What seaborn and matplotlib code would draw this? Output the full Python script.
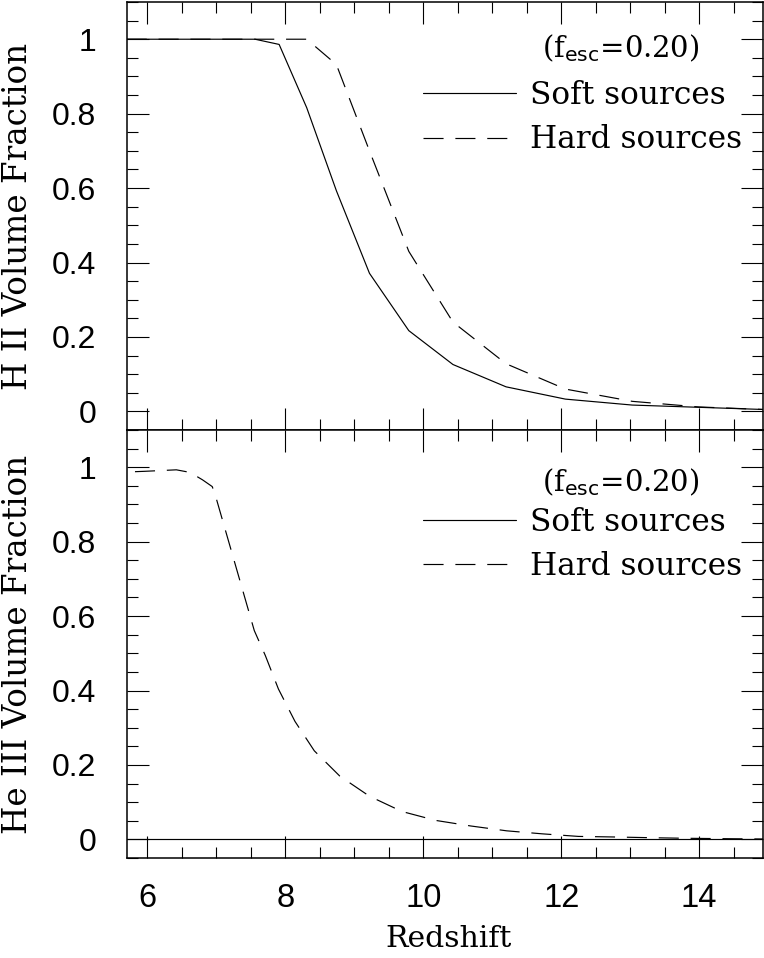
import numpy as np
import pandas as pd
import matplotlib
matplotlib.use("Agg")
import matplotlib.pyplot as plt
from matplotlib.ticker import FixedLocator, MultipleLocator, FixedFormatter
import seaborn as sns

# ---------------- data ----------------
z_top = [5.7, 7.56, 7.91, 8.31, 8.74, 9.22, 9.79, 10.43, 11.20, 12.06, 13.03, 13.99, 14.95]
hii_soft = [1.0, 1.0, 0.986, 0.816, 0.593, 0.371, 0.217, 0.126, 0.066, 0.033, 0.017, 0.011, 0.005]
hii_hard = [1.0, 1.0, 1.0, 1.0, 0.932, 0.70, 0.43, 0.24, 0.128, 0.06, 0.027, 0.012, 0.005]

z_he_soft = [5.7, 14.95]
heiii_soft = [0.0, 0.0]
z_he_hard = [5.82, 5.96, 6.42, 6.62, 6.80, 6.94, 6.98, 7.23, 7.55, 7.71, 7.90, 8.14,
             8.42, 8.79, 9.22, 9.69, 10.18, 10.69, 11.21, 11.72, 12.25, 12.76, 13.28,
             13.80, 14.32, 14.95]
heiii_hard = [0.988, 0.989, 0.993, 0.986, 0.966, 0.948, 0.928, 0.767, 0.561, 0.494, 0.404,
              0.317, 0.238, 0.170, 0.116, 0.075, 0.051, 0.036, 0.023, 0.015, 0.008, 0.0065,
              0.0046, 0.003, 0.002, 0.001]

x_ticks = [6, 8, 10, 12, 14]
x_ticklabels = ["6", "8", "10", "12", "14"]
y_ticks = [0, 0.2, 0.4, 0.6, 0.8, 1.0]
y_ticklabels = ["0", "0.2", "0.4", "0.6", "0.8", "1"]
series_names = ["Soft sources", "Hard sources"]
legend_title = r"(f$_{\mathsf{esc}}$=0.20)"
ylabels = ["H II Volume Fraction", "He III Volume Fraction"]
xlabel = "Redshift"

# ---------------- styling ----------------
sns.set_theme(style="white")
plt.rcParams["font.family"] = ["DejaVu Serif"]
plt.rcParams["mathtext.fontset"] = "dejavuserif"
for k in ["text.color", "axes.labelcolor", "xtick.color", "ytick.color", "axes.edgecolor"]:
    plt.rcParams[k] = "black"

W, H = 764, 958
fig = plt.figure(figsize=(W / 100, H / 100), dpi=100)

left = 126.7 / W
right = 763.3 / W
ax_top = fig.add_axes([left, (H - 430) / H, right - left, 428 / H])
ax_bot = fig.add_axes([left, (H - 858) / H, right - left, 428 / H])

serif = "DejaVu Serif"
sans = "Liberation Sans"
lw = 0.85
dash = (0, (17, 10))

df_top = pd.DataFrame({"z": z_top, "soft": hii_soft, "hard": hii_hard})
sns.lineplot(data=df_top, x="z", y="soft", ax=ax_top, color="black", lw=lw,
             label=series_names[0], estimator=None, sort=False)
sns.lineplot(data=df_top, x="z", y="hard", ax=ax_top, color="black", lw=lw,
             linestyle=dash, label=series_names[1], estimator=None, sort=False)

df_bs = pd.DataFrame({"z": z_he_soft, "v": heiii_soft})
df_bh = pd.DataFrame({"z": z_he_hard, "v": heiii_hard})
sns.lineplot(data=df_bs, x="z", y="v", ax=ax_bot, color="black", lw=lw,
             label=series_names[0], estimator=None, sort=False)
sns.lineplot(data=df_bh, x="z", y="v", ax=ax_bot, color="black", lw=lw,
             linestyle=dash, label=series_names[1], estimator=None, sort=False)

legend_y = [0.817, 0.82]
title_y = [0.8925, 0.8785]

for i, ax in enumerate([ax_top, ax_bot]):
    ax.set_xlim(5.7, 14.93)
    ax.set_ylim(-0.05, 1.1)
    ax.xaxis.set_major_locator(FixedLocator(x_ticks))
    ax.xaxis.set_minor_locator(MultipleLocator(0.5))
    ax.yaxis.set_major_locator(FixedLocator(y_ticks))
    ax.yaxis.set_major_formatter(FixedFormatter(y_ticklabels))
    ax.yaxis.set_minor_locator(MultipleLocator(0.05))
    ax.tick_params(which="both", direction="in", top=True, right=True,
                   bottom=True, left=True, color="black")
    ax.tick_params(which="major", length=16, width=0.8)
    ax.tick_params(which="minor", length=8, width=0.8)
    ax.tick_params(axis="y", which="major", pad=22, labelsize=23)
    for lab in ax.get_yticklabels():
        lab.set_fontfamily(sans)
    for sp in ax.spines.values():
        sp.set_color("black")
        sp.set_linewidth(1.1)
    ax.set_ylabel(ylabels[i], fontsize=23.5, family=serif)
    ax.yaxis.set_label_coords(-0.145, 0.5)
    leg = ax.legend(frameon=False, loc="upper right",
                    bbox_to_anchor=(0.966, legend_y[i]), fontsize=22.5,
                    handlelength=3.0, handletextpad=0.42, labelspacing=0.42,
                    borderpad=0, borderaxespad=0)
    for h in leg.get_lines():
        h.set_linewidth(lw)
    ax.text(0.7765, title_y[i], legend_title, transform=ax.transAxes, ha="center",
            va="center", fontsize=21, family=serif)

ax_top.set_xlabel("")
ax_top.tick_params(axis="x", labelbottom=False)
ax_bot.set_xticklabels(x_ticklabels)
ax_bot.tick_params(axis="x", which="major", pad=18, labelsize=23.5)
for lab in ax_bot.get_xticklabels():
    lab.set_fontfamily(sans)
ax_bot.set_xlabel(xlabel, fontsize=21.5, family=serif)
ax_bot.xaxis.set_label_coords(0.505, -0.156)

fig.savefig("out.png", dpi=100)
